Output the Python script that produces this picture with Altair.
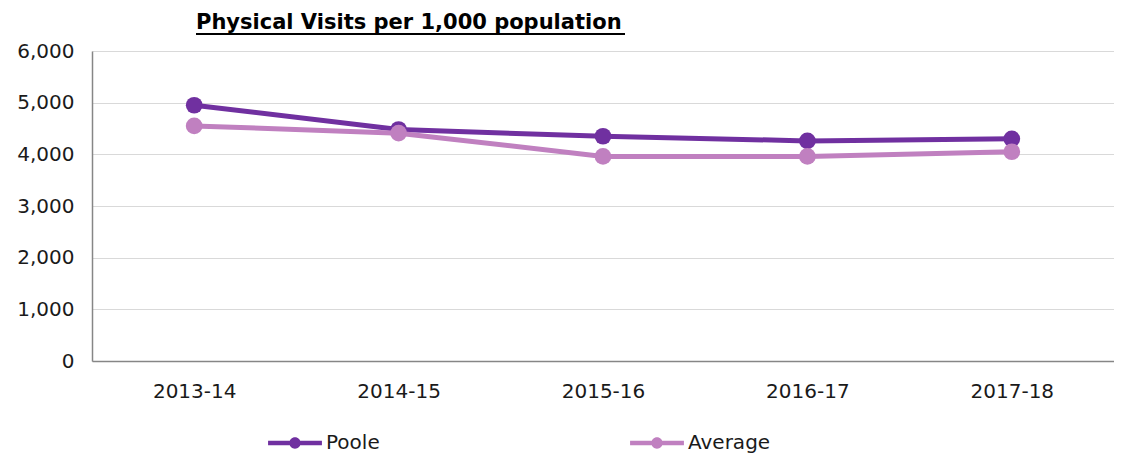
import altair as alt
import pandas as pd

years = ["2013-14", "2014-15", "2015-16", "2016-17", "2017-18"]
poole = [4950, 4480, 4350, 4260, 4300]
average = [4550, 4410, 3960, 3960, 4050]
series_names = ["Poole", "Average"]
series_colors = ["#7030A0", "#C080C0"]
title_text = "Physical Visits per 1,000 population"

rows = []
for s, vals in zip(series_names, [poole, average]):
    for y, v in zip(years, vals):
        rows.append({"Year": y, "Series": s, "Value": v})
df = pd.DataFrame(rows)

FONT = "DejaVu Sans"
legend_path = ("M-1,-0.085H1V0.085H-1Z "
               "M0.21,0A0.21,0.21,0,1,1,-0.21,0A0.21,0.21,0,1,1,0.21,0Z")

x_enc = alt.X("Year:N", sort=years, title=None,
              scale=alt.Scale(type="point", padding=0.5),
              axis=alt.Axis(labelAngle=0, ticks=False, grid=False,
                            labelFontSize=20, labelPadding=20,
                            labelColor="#1a1a1a", labelFont=FONT,
                            domainColor="#868686", domainWidth=1.5))
y_enc = alt.Y("Value:Q", title=None,
              scale=alt.Scale(domain=[0, 6000], nice=False),
              axis=alt.Axis(values=[0, 1000, 2000, 3000, 4000, 5000, 6000],
                            format=",d", ticks=False, labelFontSize=20,
                            labelPadding=18, labelColor="#1a1a1a", labelFont=FONT,
                            gridColor="#d9d9d9", gridWidth=1,
                            domainColor="#868686", domainWidth=1.5))
legend = alt.Legend(title=None, orient="none", direction="horizontal",
                    legendX=176, legendY=365, symbolType=legend_path,
                    symbolSize=2900, symbolStrokeWidth=0, labelFontSize=20,
                    labelFont=FONT, labelColor="#1a1a1a", labelOffset=4,
                    columnPadding=250)
color_enc = alt.Color("Series:N",
                      scale=alt.Scale(domain=series_names, range=series_colors),
                      legend=legend)

layers = []
for s in series_names:
    sub = df[df["Series"] == s]
    layers.append(alt.Chart(sub).mark_line(strokeWidth=5).encode(
        x=x_enc, y=y_enc, color=color_enc))
    layers.append(alt.Chart(sub).mark_point(filled=True, size=280, opacity=1).encode(
        x=x_enc, y=y_enc, color=color_enc))

underline = alt.Chart(pd.DataFrame({"a": [0]})).mark_rule(
    color="#000000", strokeWidth=2).encode(
    x=alt.value(104), x2=alt.value(533), y=alt.value(-17))

chart = alt.layer(*layers, underline).properties(
    width=1022, height=310,
    padding={"left": 84, "top": 43, "right": 0, "bottom": 92},
    autosize=alt.AutoSizeParams(type="none"),
    title=alt.TitleParams(title_text, anchor="start", frame="group", dx=104, offset=0,
                          fontSize=21, fontWeight="bold", font=FONT, color="#000000"),
).configure_view(stroke=None).configure_axis(labelFont=FONT)

chart.save("out.html", embed_options={"renderer": "svg", "actions": False})
